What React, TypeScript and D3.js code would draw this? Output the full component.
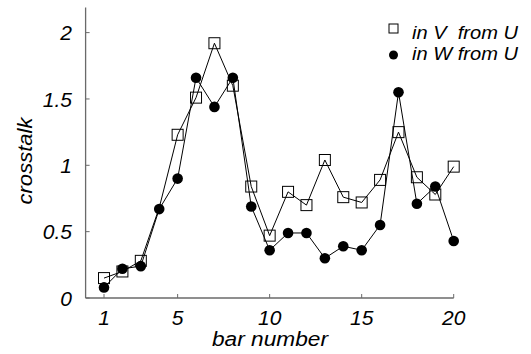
import React from "react";
import * as d3 from "d3";

const barNumbers = [1, 2, 3, 4, 5, 6, 7, 8, 9, 10, 11, 12, 13, 14, 15, 16, 17, 18, 19, 20];
const inVfromU = [0.15, 0.2, 0.28, 0.68, 1.23, 1.51, 1.92, 1.6, 0.84, 0.47, 0.8, 0.7, 1.04, 0.76, 0.72, 0.89, 1.25, 0.91, 0.78, 0.99];
const inWfromU = [0.08, 0.22, 0.24, 0.67, 0.9, 1.66, 1.44, 1.66, 0.69, 0.36, 0.49, 0.49, 0.3, 0.39, 0.36, 0.55, 1.55, 0.71, 0.84, 0.43];
const vMarkerHidden = [4];
const xTicks = [1, 5, 10, 15, 20];
const yTicks = [0, 0.5, 1, 1.5, 2];
const yTickLabels = ["0", "0.5", "1", "1.5", "2"];
const seriesNames = ["in V  from U", "in W from U"];
const xTitle = "bar number";
const yTitle = "crosstalk";

export default function App() {
  const W = 531, H = 354;
  const x = d3.scaleLinear().domain([0, 20]).range([85.6, 453.7]);
  const y = d3.scaleLinear().domain([0, 2.19]).range([298, 7.4]);
  const line = d3
    .line<number>()
    .x((_, i) => x(barNumbers[i]))
    .y((d) => y(d));
  const axisColor = "#6a6a6a";
  const font = "'Liberation Sans', Arial, sans-serif";
  const sq = 11;
  return (
    <svg
      width={W}
      height={H}
      style={{ position: "absolute", left: 0, top: 0, background: "#fff" }}
      fontFamily={font}
    >
      {/* axes */}
      <line x1={x(0)} x2={x(0)} y1={y(2.19)} y2={y(0)} stroke={axisColor} strokeWidth={1.3} />
      <line x1={x(0)} x2={x(20)} y1={y(0)} y2={y(0)} stroke={axisColor} strokeWidth={1.3} />
      {yTicks.map((t, i) => (
        <g key={"y" + t}>
          <line x1={x(0)} x2={x(0) + 4} y1={y(t)} y2={y(t)} stroke={axisColor} strokeWidth={1} />
          <text
            x={72}
            y={y(t)}
            dy="0.36em"
            textAnchor="end"
            fontSize={21}
            fontStyle="italic"
            fill="#000"
          >
            {yTickLabels[i]}
          </text>
        </g>
      ))}
      {xTicks.map((t) => (
        <g key={"x" + t}>
          <line x1={x(t)} x2={x(t)} y1={y(0)} y2={y(0) - 4} stroke={axisColor} strokeWidth={1} />
          <text x={x(t)} y={324.5} textAnchor="middle" fontSize={21} fontStyle="italic" fill="#000">
            {t}
          </text>
        </g>
      ))}
      {/* titles */}
      <text
        x={270}
        y={345.5}
        textAnchor="middle"
        fontSize={20}
        fontStyle="italic"
        textLength={116}
        lengthAdjust="spacingAndGlyphs"
      >
        {xTitle}
      </text>
      <text
        transform={`translate(32,161) rotate(-90)`}
        textAnchor="middle"
        fontSize={21}
        fontStyle="italic"
        textLength={87}
        lengthAdjust="spacingAndGlyphs"
      >
        {yTitle}
      </text>
      {/* lines */}
      <path d={line(inVfromU) || ""} fill="none" stroke="#000" strokeWidth={1} />
      <path d={line(inWfromU) || ""} fill="none" stroke="#000" strokeWidth={1} />
      {/* markers */}
      {inVfromU.map((v, i) =>
        vMarkerHidden.includes(barNumbers[i]) ? null : (
          <rect
            key={"v" + i}
            x={x(barNumbers[i]) - sq / 2}
            y={y(v) - sq / 2}
            width={sq}
            height={sq}
            fill="none"
            stroke="#000"
            strokeWidth={1}
          />
        )
      )}
      {inWfromU.map((v, i) => (
        <circle key={"w" + i} cx={x(barNumbers[i])} cy={y(v)} r={5.3} fill="#000" />
      ))}
      {/* legend */}
      <rect x={393.5 - 4.5} y={28.5 - 4.5} width={9} height={9} fill="#fff" stroke="#000" strokeWidth={1} />
      <text x={412} y={38.5} fontSize={19} fontStyle="italic" textLength={106} lengthAdjust="spacingAndGlyphs" style={{ whiteSpace: "pre" }}>
        {seriesNames[0]}
      </text>
      <circle cx={393.5} cy={55} r={4.5} fill="#000" />
      <text x={412} y={59.5} fontSize={19} fontStyle="italic" textLength={106} lengthAdjust="spacingAndGlyphs">
        {seriesNames[1]}
      </text>
    </svg>
  );
}
